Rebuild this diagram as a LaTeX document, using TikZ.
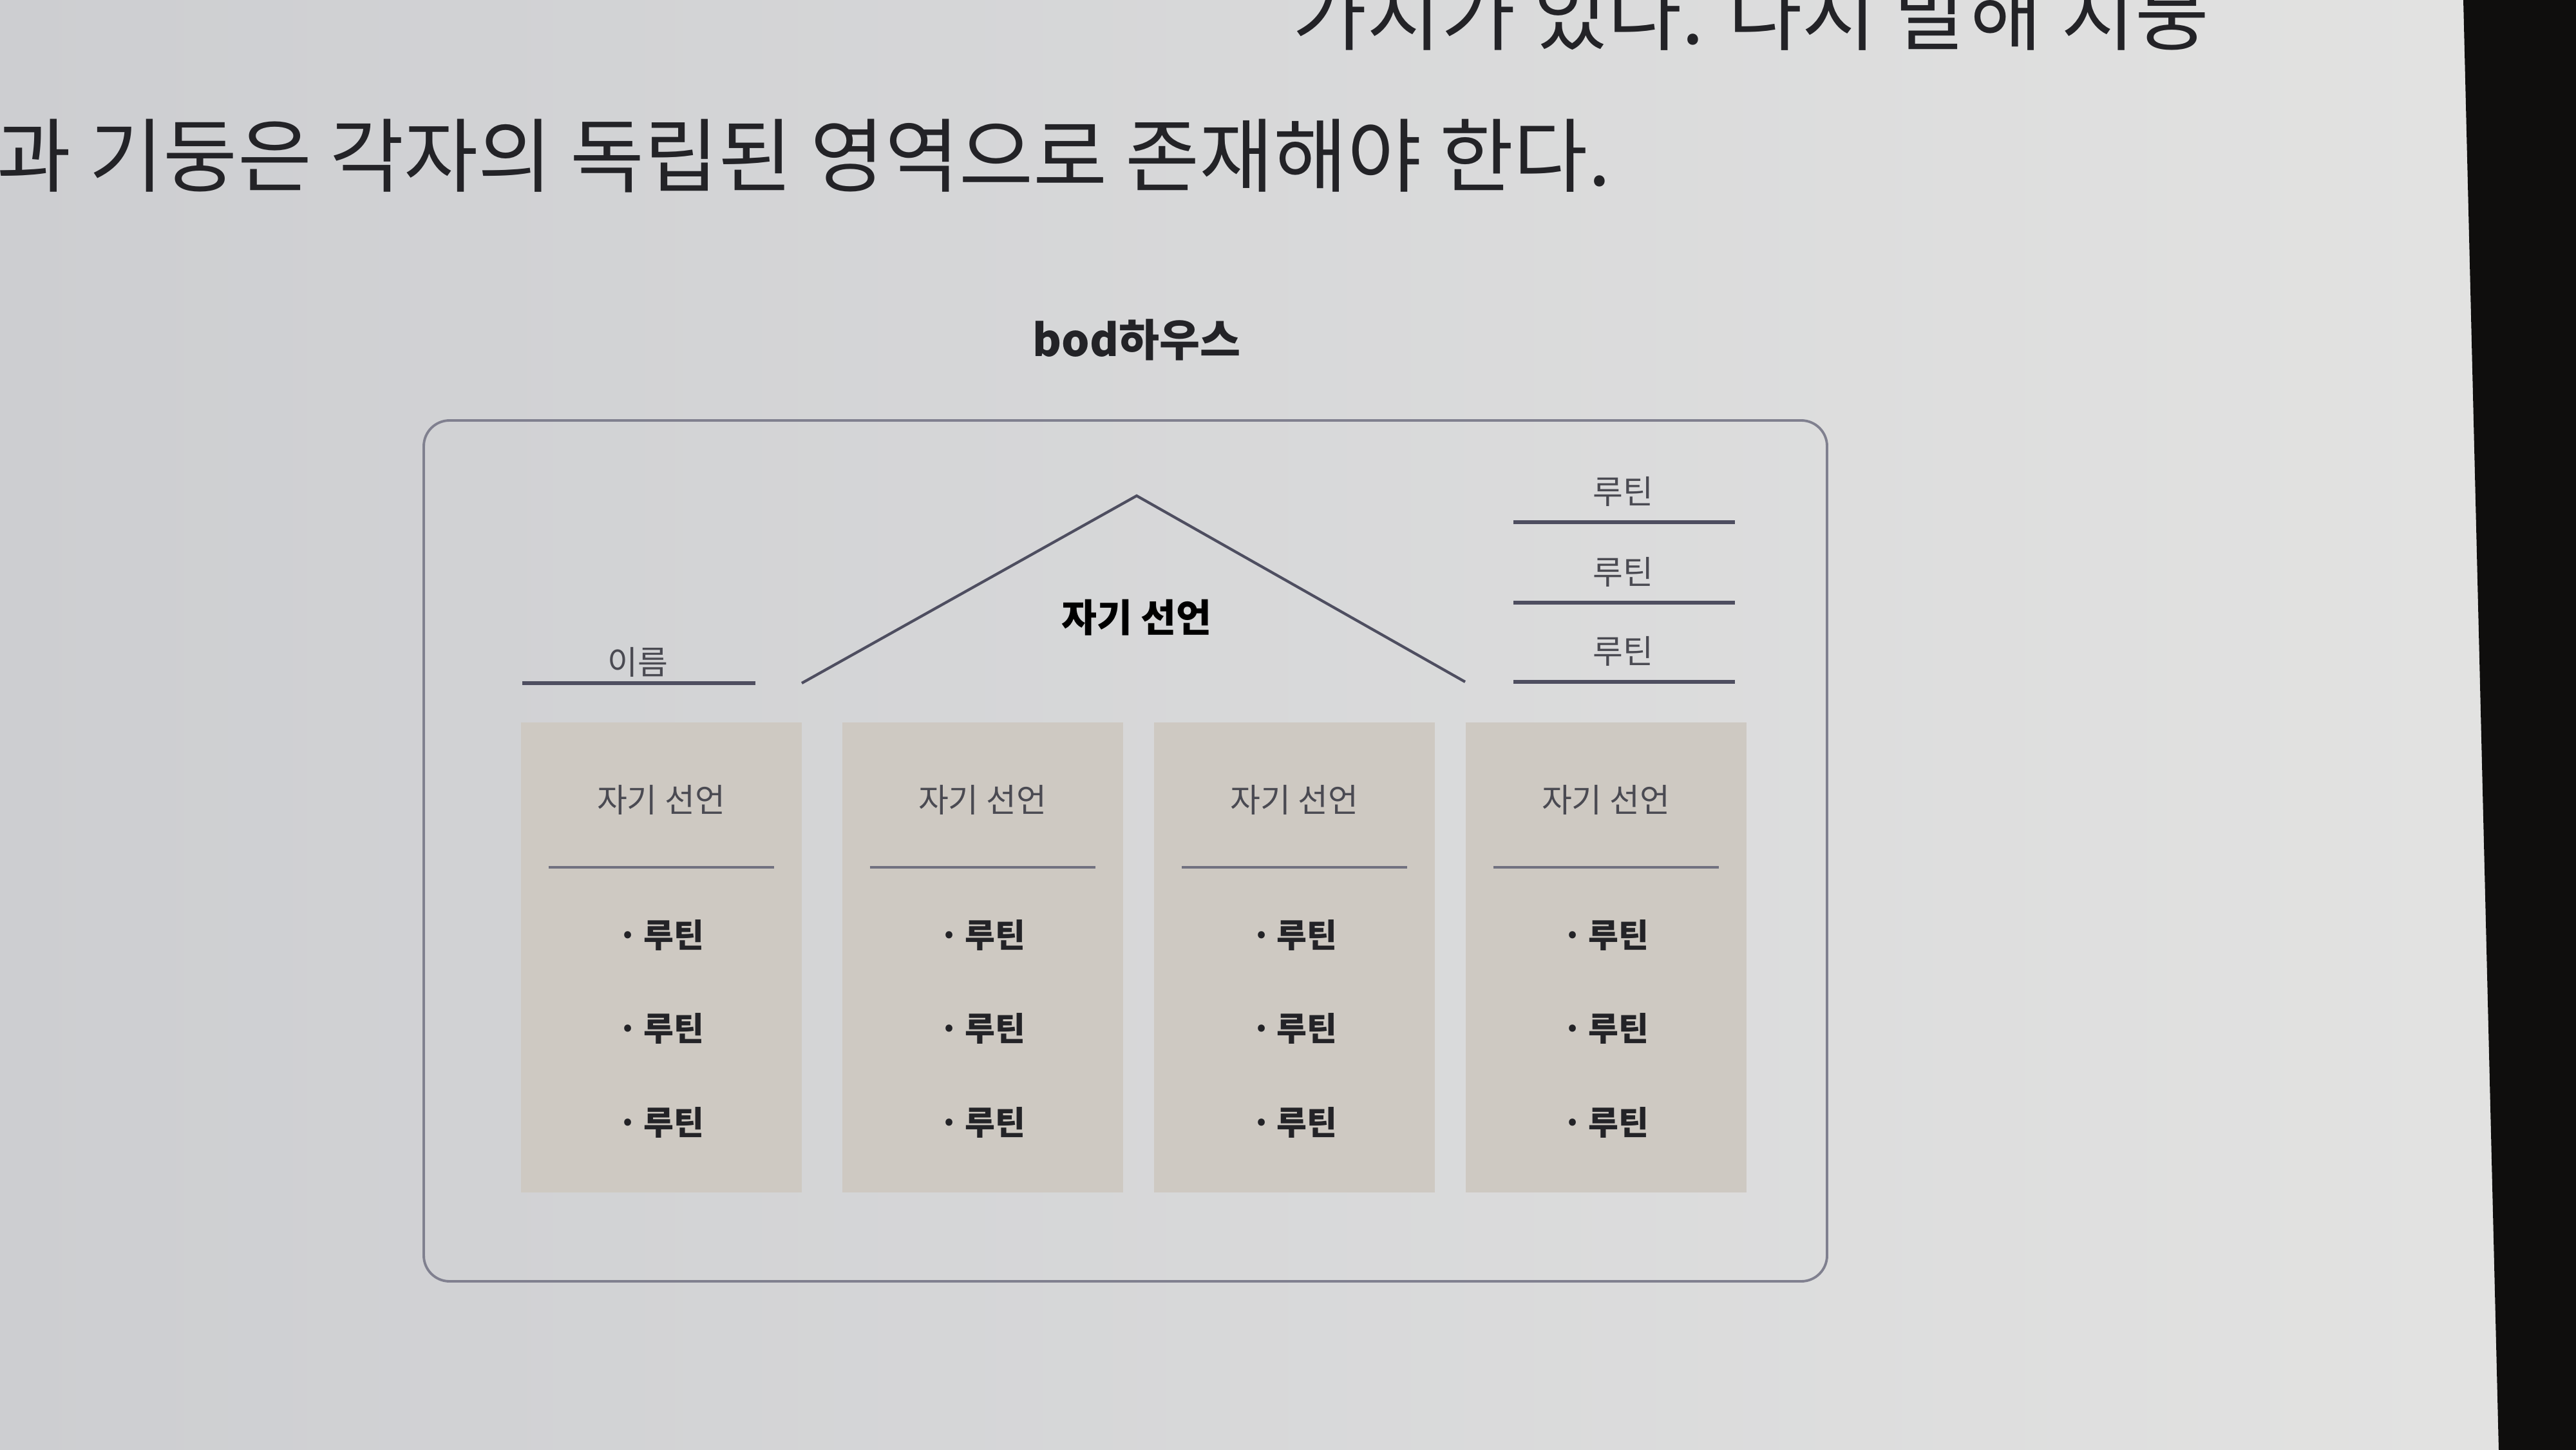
\documentclass[tikz,border=0pt]{standalone}
\usepackage{fontspec}
\setmainfont{Noto Sans CJK KR}
\usepackage{xcolor}
\usetikzlibrary{positioning}

\definecolor{pageleft}{HTML}{CDCED1}
\definecolor{pageright}{HTML}{E3E3E2}
\definecolor{deskdark}{HTML}{0F0E0D}
\definecolor{framegray}{HTML}{80808F}
\definecolor{rulegray}{HTML}{4E4E60}
\definecolor{pillarfill}{HTML}{CEC9C2}
\definecolor{inkdark}{HTML}{232327}
\definecolor{inkgray}{HTML}{4A4A52}

\begin{document}
\begin{tikzpicture}[
    every node/.style={inner sep=0pt},
    bodytext/.style={text=inkdark, font=\fontsize{35.6}{38}\selectfont},
    smalltext/.style={text=inkgray, font=\fontsize{14.5}{16}\selectfont},
    itemtext/.style={text=inkdark, font=\bfseries\fontsize{14.5}{16}\selectfont},
    rule/.style={draw=rulegray, line width=1.6pt},
    thinrule/.style={draw=rulegray!80, line width=1.1pt},
    pillar/.style={fill=pillarfill}
]
    \useasboundingbox (0,0) rectangle (40,-22.52);
    \clip (0,0) rectangle (40,-22.52);

    % page and desk
    \shade[left color=pageleft, right color=pageright] (0,0) rectangle (40,-22.52);
    \fill[deskdark] (38.25,0) -- (40,0) -- (40,-22.52) -- (38.8,-22.52) -- cycle;

    % body text
    \node[bodytext, anchor=east] (line1) at (34.31,-0.22) {가지가 있다. 다시 말해 지붕};
    \node[bodytext, anchor=west] (line2) at (-0.05,-2.42) {과 기둥은 각자의 독립된 영역으로 존재해야 한다.};

    % title
    \node[text=inkdark, font=\bfseries\fontsize{19.5}{21}\selectfont] (title) at (17.65,-5.28) {bod하우스};

    % frame
    \draw[framegray, line width=1.1pt, rounded corners=0.4cm] (6.58,-6.53) rectangle (28.37,-19.90);

    % roof
    \coordinate (eaveL) at (12.45,-10.61);
    \coordinate (apex) at (17.65,-7.70);
    \coordinate (eaveR) at (22.75,-10.59);
    \draw[rulegray, line width=1.2pt] (eaveL) -- (apex) -- (eaveR);
    \node[text=black, font=\bfseries\fontsize{17}{19}\selectfont] (roof) at (17.65,-9.59) {자기 선언};

    % name
    \node[smalltext] (name) at (9.90,-10.28) {이름};
    \draw[rule] (8.11,-10.61) -- (11.73,-10.61);

    % routines on the right
    \foreach \y [count=\i] in {-8.11,-9.36,-10.59} {
            \draw[rule] (23.50,\y) -- (26.94,\y);
            \node[smalltext] (routine\i) at (25.20,\y+0.48) {루틴};
        }

    % pillars
    \foreach \x [count=\i] in {10.265,15.255,20.10,24.935} {
            \fill[pillar] (\x-2.18,-11.22) rectangle (\x+2.18,-18.52);
            \node[smalltext] (head\i) at (\x,-12.42) {자기 선언};
            \draw[thinrule] (\x-1.75,-13.47) -- (\x+1.75,-13.47);
            \foreach \y [count=\j] in {-14.52,-15.97,-17.43} {
                    \node[itemtext] (item\i\j) at (\x,\y) {·\,루틴};
                }
        }
\end{tikzpicture}
\end{document}
